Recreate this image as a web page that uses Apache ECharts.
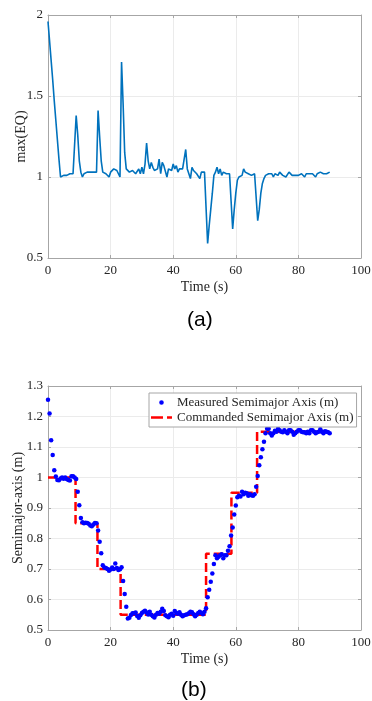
<!DOCTYPE html>
<html>
<head>
<meta charset="utf-8">
<script src="https://cdn.jsdelivr.net/npm/echarts@6/dist/echarts.min.js"></script>
<style>
html,body{margin:0;padding:0;background:#fff;}
#chart{width:372px;height:701px;}
</style>
</head>
<body>
<div id="chart"></div>
<script>
// ---------- DATA ----------
const timeStep = 0.5; // sampling interval (s)

// (a) max(EQ) sampled every 0.5 s from 0 to 90 s
const maxEQ = [
1.96,1.84,1.72,1.60,1.47,1.35,1.23,1.11,1.00,1.01,
1.01,1.01,1.01,1.02,1.02,1.02,1.02,1.02,1.38,1.26,
1.10,1.03,1.00,1.02,1.03,1.03,1.03,1.03,1.03,1.03,
1.02,1.03,1.41,1.25,1.10,1.03,1.03,1.02,1.03,1.00,
1.03,1.04,1.05,1.04,1.04,1.02,1.00,1.71,1.45,1.15,
1.05,1.04,1.03,1.03,1.04,1.05,1.02,1.03,1.05,1.02,
1.06,1.02,1.08,1.21,1.10,1.05,1.09,1.06,1.04,1.03,
1.05,1.11,1.02,1.09,1.07,1.06,1.00,1.05,1.05,1.04,
1.08,1.05,1.07,1.03,1.05,1.04,1.05,1.06,1.17,1.05,
1.04,0.99,1.06,1.04,1.04,1.02,1.02,0.99,1.03,1.04,
1.03,1.04,0.59,0.70,0.80,0.90,1.01,1.03,1.06,1.02,
1.05,1.01,1.03,1.02,1.02,1.01,1.02,0.85,0.68,0.80,
0.90,0.98,1.00,1.01,1.01,1.05,1.03,1.02,1.02,1.01,
1.01,1.01,1.02,1.02,0.73,0.80,0.90,0.96,0.99,1.01,
1.02,1.02,1.02,1.02,1.00,1.02,1.02,1.01,1.03,1.02,
1.01,1.01,1.00,1.01,1.03,1.02,1.01,1.01,1.01,1.01,
1.01,1.02,1.02,1.02,1.00,1.02,1.01,1.02,1.01,1.02,
1.02,1.00,1.02,1.02,1.03,1.02,1.02,1.01,1.02,1.02,
1.03
];

// (b) measured semimajor axis (m), sampled every 0.5 s from 0 to 90 s
const measuredA = [
1.255,1.210,1.122,1.074,1.024,1.003,0.992,0.991,0.997,1.000,
0.996,1.000,0.995,0.992,0.990,1.004,1.004,1.000,0.995,0.953,
0.909,0.867,0.853,0.850,0.852,0.851,0.848,0.843,0.840,0.846,
0.851,0.850,0.826,0.789,0.752,0.712,0.705,0.703,0.700,0.694,
0.698,0.705,0.700,0.718,0.703,0.697,0.699,0.706,0.661,0.618,
0.576,0.538,0.540,0.549,0.555,0.555,0.557,0.546,0.540,0.548,
0.556,0.560,0.563,0.557,0.551,0.560,0.550,0.545,0.541,0.550,
0.556,0.553,0.560,0.570,0.562,0.548,0.545,0.542,0.550,0.553,
0.547,0.562,0.556,0.553,0.558,0.550,0.545,0.548,0.550,0.552,
0.555,0.560,0.558,0.552,0.545,0.550,0.556,0.560,0.556,0.552,
0.560,0.571,0.607,0.632,0.658,0.685,0.716,0.745,0.735,0.740,
0.745,0.748,0.735,0.745,0.745,0.760,0.775,0.810,0.836,0.879,
0.908,0.935,0.940,0.938,0.953,0.945,0.950,0.948,0.940,0.945,
0.942,0.940,0.945,0.970,1.005,1.040,1.066,1.093,1.117,1.145,
1.160,1.160,1.145,1.138,1.145,1.153,1.150,1.160,1.155,1.150,
1.148,1.155,1.150,1.145,1.155,1.155,1.150,1.140,1.145,1.150,
1.155,1.155,1.150,1.148,1.148,1.145,1.150,1.145,1.155,1.155,
1.150,1.145,1.148,1.150,1.158,1.150,1.145,1.152,1.150,1.148,
1.145
];

// (b) commanded semimajor axis: switch times (s) and levels (m)
const cmdTimes  = [0, 8.8, 15.8, 23.2, 50.5, 58.6, 66.8, 89.8];
const cmdLevels = [1.00, 0.85, 0.70, 0.55, 0.75, 0.95, 1.15, 1.15];

// tick settings
const xTicks = {min: 0, max: 100, interval: 20};
const yTicksA = {min: 0.5, max: 2, interval: 0.5};
const yTicksB = {min: 0.5, max: 1.3, interval: 0.1};

const legendNames = ['Measured Semimajor Axis (m)', 'Commanded Semimajor Axis (m)'];

// ---------- BUILD ----------
const pairs = arr => arr.map((v, i) => [i * timeStep, v]);
const cmdData = cmdTimes.map((t, i) => [t, cmdLevels[i]]);

const SERIF = '"Liberation Serif","Times New Roman",serif';
const txt = '#262626';
const axisCol = '#a6a6a6';
const gridCol = '#ebebeb';
const fmt = v => String(+(+v).toFixed(2));

function xAx(gi, pos, show) {
  return {
    type: 'value', gridIndex: gi, position: pos, ...xTicks,
    name: show ? 'Time (s)' : '', nameLocation: 'middle', nameGap: 22, nameMoveOverlap: false,
    nameTextStyle: {fontFamily: SERIF, fontSize: 14, color: txt},
    axisLine: {show: true, onZero: false, lineStyle: {color: axisCol, width: 1}},
    axisTick: {show: true, inside: true, length: 3, lineStyle: {color: axisCol}},
    axisLabel: {show: show, fontFamily: SERIF, fontSize: 13, color: txt, margin: 6, formatter: fmt},
    splitLine: {show: show, lineStyle: {color: gridCol, width: 1}}
  };
}
function yAx(gi, pos, show, ticks, name, gap) {
  return {
    type: 'value', gridIndex: gi, position: pos, ...ticks,
    name: show ? name : '', nameLocation: 'middle', nameGap: gap, nameRotate: 90, nameMoveOverlap: false,
    nameTextStyle: {fontFamily: SERIF, fontSize: 14, color: txt},
    axisLine: {show: true, onZero: false, lineStyle: {color: axisCol, width: 1}},
    axisTick: {show: true, inside: true, length: 3, lineStyle: {color: axisCol}},
    axisLabel: {show: show, fontFamily: SERIF, fontSize: 13, color: txt, margin: 5, formatter: fmt},
    splitLine: {show: show, lineStyle: {color: gridCol, width: 1}}
  };
}

const dotIcon = 'path://M0,0L0.01,0M21,10L21.01,10M8.2,5A2.3,2.3,0,1,0,12.8,5A2.3,2.3,0,1,0,8.2,5Z';
const dashIcon = 'path://M0,0L0.01,0M21,10L21.01,10M0,3.8H12V6.2H0ZM16,3.8H21V6.2H16Z';

const chart = echarts.init(document.getElementById('chart'), null, {renderer: 'canvas'});
chart.setOption({
  animation: false,
  backgroundColor: '#fff',
  grid: [
    {left: 48, right: 11, top: 15, height: 243, outerBoundsMode: 'none', containLabel: false},
    {left: 48, right: 11, top: 386, height: 244, outerBoundsMode: 'none', containLabel: false}
  ],
  xAxis: [
    xAx(0, 'bottom', true), xAx(0, 'top', false),
    xAx(1, 'bottom', true), xAx(1, 'top', false)
  ],
  yAxis: [
    yAx(0, 'left', true, yTicksA, 'max(EQ)', 20), yAx(0, 'right', false, yTicksA, '', 0),
    yAx(1, 'left', true, yTicksB, 'Semimajor-axis (m)', 23), yAx(1, 'right', false, yTicksB, '', 0)
  ],
  legend: {
    orient: 'vertical', left: 149, top: 393,
    backgroundColor: '#fff', borderColor: '#a6a6a6', borderWidth: 1,
    padding: [3, 3, 3, 2], itemGap: 2, itemWidth: 21, itemHeight: 10,
    textStyle: {fontFamily: SERIF, fontSize: 13, color: txt},
    data: [
      {name: legendNames[0], icon: dotIcon, itemStyle: {color: '#0000ff', opacity: 1}},
      {name: legendNames[1], icon: dashIcon, itemStyle: {color: '#ff0000', opacity: 1}}
    ]
  },
  series: [
    {
      type: 'line', xAxisIndex: 0, yAxisIndex: 0, data: pairs(maxEQ),
      showSymbol: false, symbol: 'none',
      lineStyle: {color: '#0072bd', width: 1.6}
    },
    {
      name: legendNames[1], type: 'line', step: 'end', xAxisIndex: 2, yAxisIndex: 2,
      data: cmdData, symbol: 'none', z: 2,
      itemStyle: {color: '#ff0000'},
      lineStyle: {color: '#ff0000', width: 2.5, type: [9, 4]}
    },
    {
      name: legendNames[0], type: 'scatter', xAxisIndex: 2, yAxisIndex: 2,
      data: pairs(measuredA), symbol: 'circle', symbolSize: 4.5, z: 3,
      itemStyle: {color: '#0000ff', opacity: 1}
    }
  ],
  graphic: [
    {type: 'text', left: 187, top: 310, style: {text: '(a)', font: '21px "Liberation Sans", Arial, sans-serif', fill: '#000'}},
    {type: 'text', left: 181, top: 680, style: {text: '(b)', font: '21px "Liberation Sans", Arial, sans-serif', fill: '#000'}}
  ]
});
</script>
</body>
</html>
